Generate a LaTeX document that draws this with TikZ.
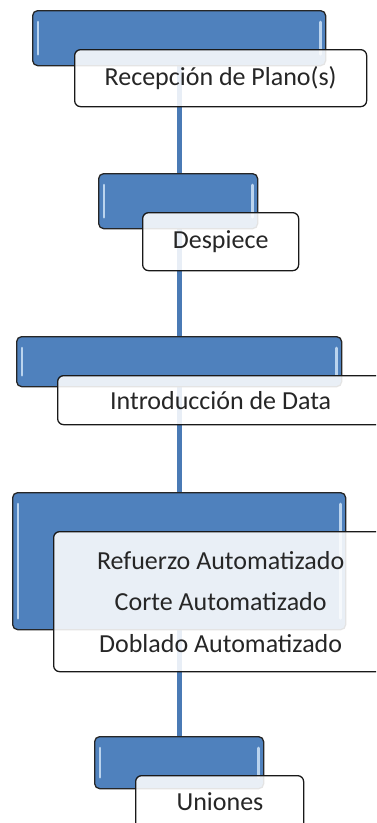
\documentclass[tikz,border=0pt]{standalone}
\usepackage{fontspec}
\setmainfont{Carlito}
\usetikzlibrary{backgrounds}
\definecolor{stepblue}{HTML}{4F81BD}
\definecolor{glint}{HTML}{CFE3F7}
\definecolor{linkblue}{HTML}{4A7AB5}
\definecolor{inktext}{HTML}{262626}

\begin{document}
\begin{tikzpicture}[x=1pt,y=-1pt,
  bluebox/.style={draw=black!85, line width=1.3pt, rounded corners=5pt,
    fill=stepblue, inner sep=0pt, anchor=north west},
  whitebox/.style={draw=black!90, line width=1.3pt, rounded corners=6pt,
    fill=white, fill opacity=0.88, text opacity=1, inner sep=0pt,
    anchor=north west, align=center, text=inktext,
    font=\fontsize{26}{41.5}\selectfont},
  link/.style={draw=linkblue, line width=5pt},
  bevel/.style={draw=glint, line width=2.6pt, line cap=round, opacity=0.85}
]
\useasboundingbox (0,0) rectangle (376,823);
\clip (0,0) rectangle (376,823);

% blue step boxes
\node[bluebox, minimum width=293pt, minimum height=55pt]  (b1) at (32,10)  {};
\node[bluebox, minimum width=159pt, minimum height=55pt]  (b2) at (98,173) {};
\node[bluebox, minimum width=325pt, minimum height=50pt]  (b3) at (16,336) {};
\node[bluebox, minimum width=333pt, minimum height=137pt] (b4) at (12,492) {};
\node[bluebox, minimum width=169pt, minimum height=52pt]  (b5) at (94,736) {};

% bevel highlights along the short sides of each blue box
\foreach \b in {b1,b2,b3,b4,b5}{
  \draw[bevel] ([xshift=6pt,yshift=-12pt]\b.north west) -- ([xshift=6pt,yshift=12pt]\b.south west);
  \draw[bevel] ([xshift=-6pt,yshift=-12pt]\b.north east) -- ([xshift=-6pt,yshift=12pt]\b.south east);
}

% spine connecting the steps
\begin{pgfonlayer}{background}
  \draw[link] (b1.center) -- (b5.center);
\end{pgfonlayer}

% white label boxes
\node[whitebox, minimum width=292pt, minimum height=57pt] (w1) at (74,49)  {Recepción de Plano(s)};
\node[whitebox, minimum width=156pt, minimum height=58pt] (w2) at (142,212) {Despiece};
\node[whitebox, minimum width=326pt, minimum height=49pt] (w3) at (57,375) {Introducción de Data};
\node[whitebox, minimum width=334pt, minimum height=140pt] (w4) at (53,531) {Refuerzo Automatizado\\Corte Automatizado\\Doblado Automatizado};
\node[whitebox, minimum width=168pt, minimum height=58pt] (w5) at (135,775) {};
\node[text=inktext, font=\fontsize{26}{30}\selectfont] (t5) at (220,802) {Uniones};
\end{tikzpicture}
\end{document}
